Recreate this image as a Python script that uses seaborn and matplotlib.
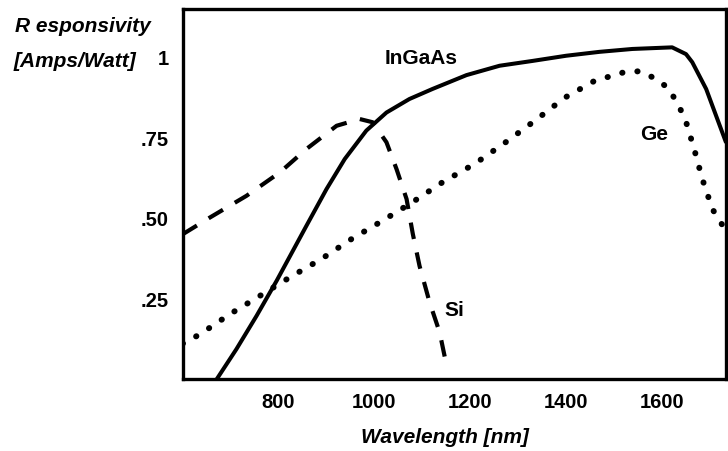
import matplotlib
matplotlib.use('Agg')
import matplotlib.pyplot as plt
import pandas as pd
import seaborn as sns

# Responsivity curves (wavelength in nm, A/W)
wl_ingaas = [671, 712, 754, 796, 858, 900, 938, 983, 1025, 1073, 1121, 1192,
             1261, 1330, 1400, 1469, 1538, 1621, 1650, 1663, 1692, 1733]
r_ingaas = [0.0, 0.093, 0.196, 0.305, 0.475, 0.589, 0.682, 0.770, 0.826, 0.868, 0.899, 0.942,
            0.971, 0.986, 1.002, 1.014, 1.023, 1.028, 1.007, 0.982, 0.899, 0.735]

wl_ge = [600, 636, 698, 761, 823, 889, 952, 1017, 1080, 1142, 1209, 1271,
         1334, 1397, 1459, 1521, 1553, 1588, 1615, 1647, 1667, 1684, 1705, 1733]
r_ge = [0.11, 0.139, 0.201, 0.258, 0.315, 0.372, 0.434, 0.491, 0.549, 0.610, 0.667, 0.731,
        0.800, 0.872, 0.924, 0.951, 0.954, 0.930, 0.899, 0.812, 0.713, 0.620, 0.527, 0.46]

wl_si = [600, 657, 733, 803, 858, 921, 969, 996, 1025, 1046, 1067, 1080,
         1094, 1115, 1136, 1150]
r_si = [0.449, 0.501, 0.568, 0.641, 0.713, 0.785, 0.806, 0.796, 0.734, 0.651, 0.558, 0.45,
        0.351, 0.238, 0.145, 0.045]

x_ticks = [800, 1000, 1200, 1400, 1600]
y_ticks = [0.25, 0.5, 0.75, 1.0]
y_ticklabels = ['.25', '.50', '.75', '1']

sns.set_style('white')
plt.rcParams['font.family'] = ['Liberation Sans', 'DejaVu Sans']
plt.rcParams['font.weight'] = 'bold'
plt.rcParams['text.color'] = 'black'
plt.rcParams['axes.labelcolor'] = 'black'
plt.rcParams['xtick.color'] = 'black'
plt.rcParams['ytick.color'] = 'black'

fig = plt.figure(figsize=(7.28, 4.52), dpi=100)
ax = fig.add_axes([0.251, 0.159, 0.746, 0.819])

df_ingaas = pd.DataFrame({'wl': wl_ingaas, 'r': r_ingaas})
df_ge = pd.DataFrame({'wl': wl_ge, 'r': r_ge})
df_si = pd.DataFrame({'wl': wl_si, 'r': r_si})

sns.lineplot(data=df_ingaas, x='wl', y='r', ax=ax, color='black', lw=2.9,
             sort=False, estimator=None, solid_joinstyle='round')
sns.lineplot(data=df_si, x='wl', y='r', ax=ax, color='black', lw=3.0,
             sort=False, estimator=None, linestyle=(0, (4.0, 3.3)))
sns.lineplot(data=df_ge, x='wl', y='r', ax=ax, color='black', lw=4.3,
             sort=False, estimator=None, linestyle=(0, (0.05, 2.5)),
             dash_capstyle='round')

ax.set_xlim(600, 1733)
ax.set_ylim(0, 1.147)
ax.set_xticks(x_ticks)
ax.set_xticklabels([str(v) for v in x_ticks])
ax.set_yticks(y_ticks)
ax.set_yticklabels(y_ticklabels)
ax.tick_params(axis='both', direction='in', length=11, width=2.4,
               labelsize=14.5, colors='black')
ax.tick_params(axis='y', pad=10)
ax.tick_params(axis='x', pad=9)
for lab in ax.get_xticklabels() + ax.get_yticklabels():
    lab.set_fontweight('bold')
for sp in ax.spines.values():
    sp.set_visible(True)
    sp.set_linewidth(2.4)
    sp.set_color('black')

ax.set_ylabel('')
ax.set_xlabel('Wavelength [nm]', fontsize=15, fontweight='bold', fontstyle='italic')
ax.xaxis.set_label_coords(0.483, -0.154)
ax.xaxis.label.set_va('center')

ax.text(1098, 0.998, 'InGaAs', fontsize=15, fontweight='bold', ha='center', va='center')
ax.text(1584, 0.76, 'Ge', fontsize=15, fontweight='bold', ha='center', va='center')
ax.text(1167, 0.217, 'Si', fontsize=15, fontweight='bold', ha='center', va='center')

fig.text(15 / 728, 1 - 32 / 452, 'R esponsivity', fontsize=15, fontweight='bold',
         fontstyle='italic', ha='left', va='baseline')
fig.text(14 / 728, 1 - 67 / 452, '[Amps/Watt]', fontsize=15, fontweight='bold',
         fontstyle='italic', ha='left', va='baseline')

fig.savefig('out.png', dpi=100)
